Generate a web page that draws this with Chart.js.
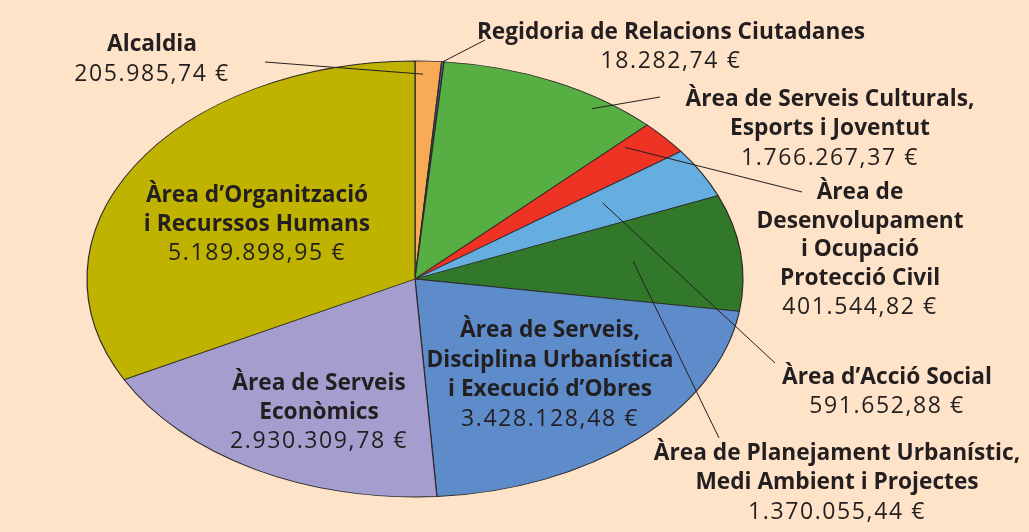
<!DOCTYPE html>
<html>
<head>
<meta charset="utf-8">
<script src="https://cdn.jsdelivr.net/npm/chart.js@4.4.0/dist/chart.umd.min.js"></script>
<style>
  html, body { margin: 0; padding: 0; background: #fee3c8; }
  canvas { display: block; }
</style>
</head>
<body>
<canvas id="pie" width="1029" height="532"></canvas>
<script>
// dades del pressupost per àrees
const areas = [
    'Alcaldia',
    'Regidoria de Relacions Ciutadanes',
    'Àrea de Serveis Culturals, Esports i Joventut',
    'Àrea de Desenvolupament i Ocupació Protecció Civil',
    'Àrea d\u2019Acció Social',
    'Àrea de Planejament Urbanístic, Medi Ambient i Projectes',
    'Àrea de Serveis, Disciplina Urbanística i Execució d\u2019Obres',
    'Àrea de Serveis Econòmics',
    'Àrea d\u2019Organització i Recurssos Humans'
];
const imports = [205985.74, 18282.74, 1766267.37, 401544.82, 591652.88, 1370055.44, 3428128.48, 2930309.78, 5189898.95];
const colors = ['#f8aa55', '#5b5ea6', '#57ae43', '#ee3224', '#66aee0', '#32782b', '#5e8bca', '#a59dcd', '#bfb300'];

// línies de títol de cada etiqueta (tal com surten al gràfic)
const titleLines = [
    ['Alcaldia'],
    ['Regidoria de Relacions Ciutadanes'],
    ['Àrea de Serveis Culturals,', 'Esports i Joventut'],
    ['Àrea de', 'Desenvolupament', 'i Ocupació', 'Protecció Civil'],
    ['Àrea d\u2019Acció Social'],
    ['Àrea de Planejament Urbanístic,', 'Medi Ambient i Projectes'],
    ['Àrea de Serveis,', 'Disciplina Urbanística', 'i Execució d\u2019Obres'],
    ['Àrea de Serveis', 'Econòmics'],
    ['Àrea d\u2019Organització', 'i Recurssos Humans']
];

// posició de les etiquetes (x centre, y primera línia, interlineat) i de les línies guia
const labelPos = [
    { x: 152, y: 45, lh: 29, line: { t: 0.32, f: 0.94, x: 265, y: 62 } },
    { x: 671, y: 33, lh: 28, line: { t: 0.5, f: 1.0, x: 485, y: 40 } },
    { x: 830, y: 100, lh: 29, line: { t: 0.74, f: 0.95, x: 660, y: 97 } },
    { x: 860, y: 193, lh: 28.5, line: { t: 0.18, f: 0.88, x: 802, y: 192 } },
    { x: 887, y: 378, lh: 28, line: { t: 0.33, f: 0.67, x: 775, y: 363 } },
    { x: 837, y: 454, lh: 29, line: { t: 0.5, f: 0.67, x: 719, y: 438 } },
    { x: 550, y: 331, lh: 29.5, line: null },
    { x: 319, y: 384, lh: 28.5, line: null },
    { x: 257, y: 196, lh: 28.5, line: null }
];

const RX = 328; // semieix horitzontal
const RY = 218; // semieix vertical

function formatEuro(v) {
    return v.toLocaleString('de-DE', { minimumFractionDigits: 2, maximumFractionDigits: 2 }) + ' \u20ac';
}

// aplana el pastís en una el·lipse
const ellipsePlugin = {
    id: 'ellipse',
    beforeDatasetsDraw(chart) {
        const arc = chart.getDatasetMeta(0).data[0];
        const ctx = chart.ctx;
        ctx.save();
        ctx.translate(arc.x, arc.y);
        ctx.scale(RX / arc.outerRadius, RY / arc.outerRadius);
        ctx.translate(-arc.x, -arc.y);
    },
    afterDatasetsDraw(chart) {
        chart.ctx.restore();
    }
};

// etiquetes i línies guia
const labelsPlugin = {
    id: 'labels',
    afterDraw(chart) {
        const ctx = chart.ctx;
        const arcs = chart.getDatasetMeta(0).data;
        ctx.save();
        ctx.strokeStyle = '#231f20';
        ctx.lineWidth = 1;
        arcs.forEach((arc, i) => {
            const p = labelPos[i];
            if (!p.line) return;
            const a = arc.startAngle + p.line.t * (arc.endAngle - arc.startAngle);
            const ax = arc.x + Math.cos(a) * RX * p.line.f;
            const ay = arc.y + Math.sin(a) * RY * p.line.f;
            ctx.beginPath();
            ctx.moveTo(ax, ay);
            ctx.lineTo(p.line.x, p.line.y);
            ctx.stroke();
        });

        ctx.fillStyle = '#231f20';
        ctx.textAlign = 'center';
        ctx.textBaseline = 'middle';
        arcs.forEach((arc, i) => {
            const p = labelPos[i];
            const lines = titleLines[i];
            ctx.font = 'bold 22.7px "Open Sans"';
            ctx.letterSpacing = '0px';
            lines.forEach((txt, k) => {
                ctx.fillText(txt, p.x, p.y + k * p.lh);
            });
            ctx.font = '23px "Open Sans"';
            ctx.letterSpacing = '1.6px';
            ctx.fillText(formatEuro(imports[i]), p.x, p.y + lines.length * p.lh);
        });
        ctx.restore();
    }
};

const chart = new Chart(document.getElementById('pie'), {
    type: 'pie',
    data: {
        labels: areas,
        datasets: [{
            data: imports,
            backgroundColor: colors,
            borderColor: '#2b2a2a',
            borderWidth: 0.8,
            clip: false
        }]
    },
    options: {
        responsive: false,
        animation: false,
        events: [],
        layout: {
            padding: { top: 60, bottom: 34, left: 196, right: 395 }
        },
        plugins: {
            legend: { display: false },
            tooltip: { enabled: false }
        }
    },
    plugins: [ellipsePlugin, labelsPlugin]
});
</script>
</body>
</html>
